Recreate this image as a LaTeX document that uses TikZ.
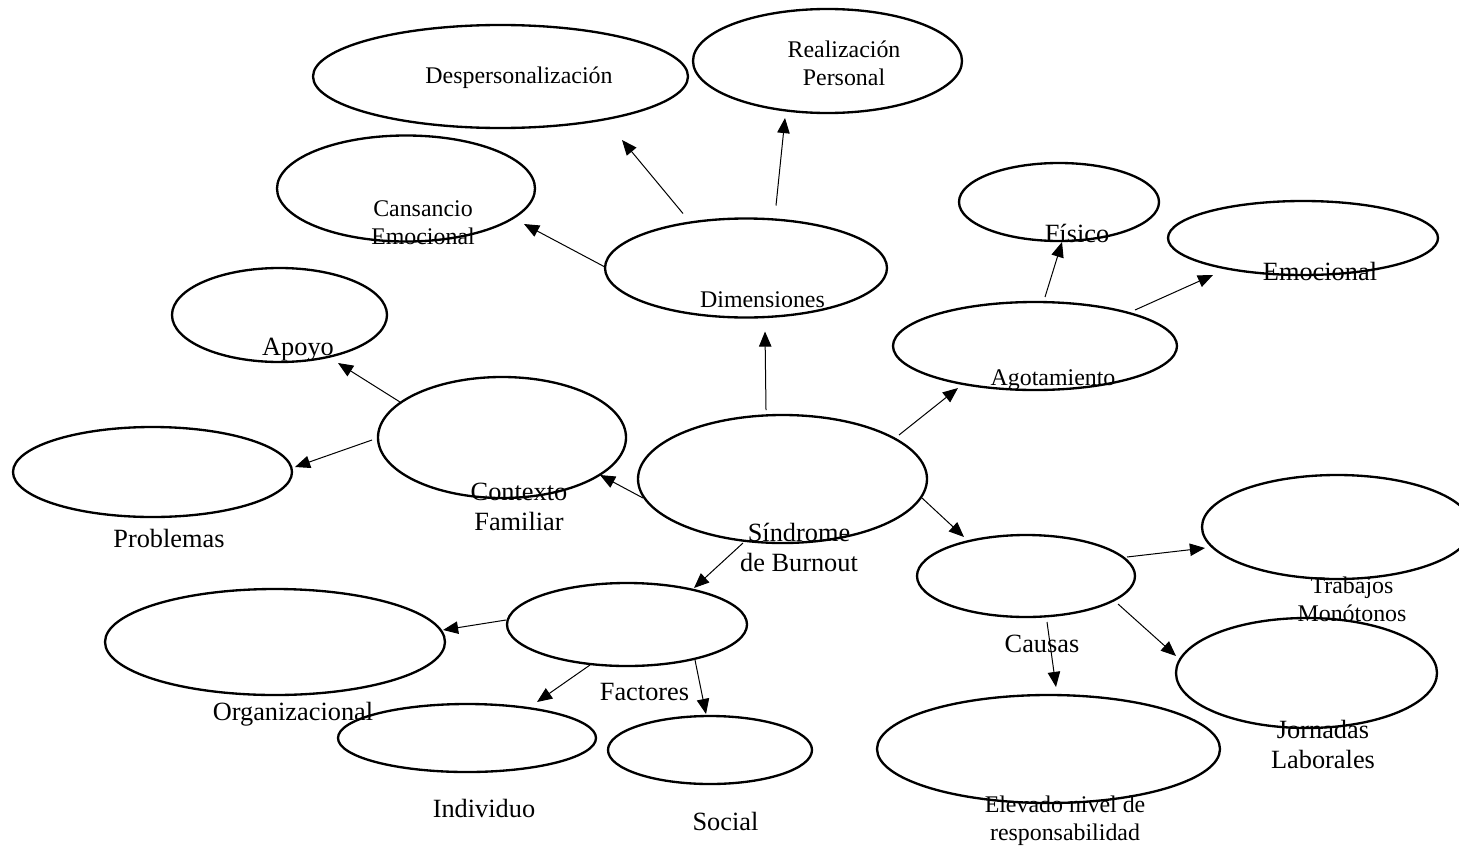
\documentclass[tikz,border=0pt]{standalone}
\usepackage{fontspec}
\setmainfont{Liberation Serif}
\usetikzlibrary{arrows.meta,calc,shapes.geometric}
\newcommand\twol[2]{\begin{tabular}[t]{@{}c@{}}#1\\#2\end{tabular}}
\newcommand\ellnode[5]{\node[ell, minimum width=#4*0.9pt, minimum height=#5*0.9pt] (#1) at (#2,#3) {};}
\tikzset{
  ell/.style={ellipse, draw, line width=1.05pt, inner sep=0pt, outer sep=0pt},
  big/.style={anchor=base, inner sep=0pt, font=\fontsize{11.85}{13.7}\selectfont},
  small/.style={anchor=base, inner sep=0pt, font=\fontsize{10.75}{12.6}\selectfont},
  arr/.style={-{Triangle[length=6.8pt,width=5.6pt]}, line width=0.45pt},
}
\begin{document}
\begin{tikzpicture}[x=0.45pt,y=-0.45pt]
\useasboundingbox (0,0) rectangle (1459,849);
% ellipses
\ellnode{desp}{500.5}{76.5}{187.5}{51.5}
\ellnode{real}{827.5}{61}{134.5}{52}
\ellnode{cans}{406}{188.5}{129}{53}
\ellnode{dim}{746}{268}{141}{49.5}
\ellnode{fis}{1059}{202}{100}{39}
\ellnode{emo}{1303}{238}{135}{37}
\ellnode{agot}{1035}{346}{142}{44}
\ellnode{apoyo}{279.5}{315}{107.5}{47}
\ellnode{prob}{152.5}{472}{139.5}{45}
\ellnode{ctx}{502}{437.5}{124}{60.5}
\ellnode{sb}{782.5}{479}{144.5}{64}
\ellnode{causas}{1026}{576}{109}{41}
\ellnode{trab}{1337}{527}{135}{52}
\ellnode{jorn}{1306.5}{673}{130.5}{55}
\ellnode{elev}{1048.5}{749}{171.5}{54}
\ellnode{fact}{627}{624.5}{120}{41.5}
\ellnode{org}{275}{642}{170}{53}
\ellnode{indiv}{467}{738}{129}{34}
\ellnode{social}{710}{750}{102}{34}
% labels
\node[small] (despt) at (519,83) {Despersonalización};
\node[small] (realt) at (844,57) {\twol{Realización}{Personal}};
\node[small] (canst) at (423,216) {\twol{Cansancio}{Emocional}};
\node[small] (dimt) at (762.5,307) {Dimensiones};
\node[big] (fist) at (1077,242) {Físico};
\node[big] (emot) at (1320,280) {Emocional};
\node[small] (agott) at (1053,385) {Agotamiento};
\node[big] (apoyot) at (298,355) {Apoyo};
\node[big] (probt) at (169,547) {Problemas};
\node[big] (ctxt) at (519,500) {\twol{Contexto}{Familiar}};
\node[big] (sbt) at (799,541) {\twol{Síndrome}{de Burnout}};
\node[big] (causast) at (1042,652) {Causas};
\node[small] (trabt) at (1352,593) {\twol{Trabajos}{Monótonos}};
\node[big] (jornt) at (1323,738) {\twol{Jornadas}{Laborales}};
\node[small] (elevt) at (1065,812) {\twol{Elevado nivel de}{responsabilidad}};
\node[big] (factt) at (644.5,700) {Factores};
\node[big] (orgt) at (293,720) {Organizacional};
\node[big] (indivt) at (484,817) {Individuo};
\node[big] (socialt) at (725.5,830) {Social};
% connectors
\draw[arr] ($(sb)+(-16.5,-69)$) -- ($(dim)+(19,63.5)$);
\draw[arr] ($(sb)+(116.5,-44)$) -- ($(agot)+(-77,42)$);
\draw[arr] ($(sb)+(139.5,19)$) -- ($(causas)+(-62,-39)$);
\draw[arr] ($(sb)+(-139.5,19)$) -- ($(ctx)+(98,37.5)$);
\draw[arr] ($(sb)+(-39.5,64)$) -- ($(fact)+(67,-36.5)$);
\draw[arr] ($(dim)+(-63,-54.5)$) -- ($(desp)+(121.5,63.5)$);
\draw[arr] ($(dim)+(30,-62.5)$) -- ($(real)+(-42.5,57)$);
\draw[arr] ($(dim)+(-142,-1.5)$) -- ($(cans)+(118,35.5)$);
\draw[arr] ($(agot)+(10,-49)$) -- ($(fis)+(3,40)$);
\draw[arr] ($(agot)+(100,-36)$) -- ($(emo)+(-90,37)$);
\draw[arr] ($(ctx)+(-102,-35.5)$) -- ($(apoyo)+(58.5,48)$);
\draw[arr] ($(ctx)+(-130,2.5)$) -- ($(prob)+(142.5,-5)$);
\draw[arr] ($(causas)+(101,-19)$) -- ($(trab)+(-132,21)$);
\draw[arr] ($(causas)+(92,28)$) -- ($(jorn)+(-130.5,-17)$);
\draw[arr] ($(causas)+(21,46)$) -- ($(elev)+(7.5,-62)$);
\draw[arr] ($(fact)+(-121,-4.5)$) -- ($(org)+(168,-12)$);
\draw[arr] ($(fact)+(-37,40.5)$) -- ($(indiv)+(70,-36)$);
\draw[arr] ($(fact)+(68,35.5)$) -- ($(social)+(-4,-36)$);
\end{tikzpicture}
\end{document}
